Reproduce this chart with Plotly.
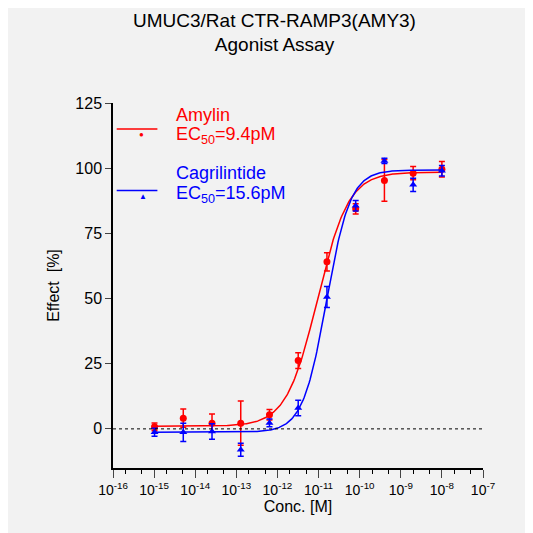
import numpy as np
import plotly.graph_objects as go

conc = [1.024e-15, 5.12e-15, 2.56e-14, 1.28e-13, 6.4e-13, 3.2e-12, 1.6e-11, 8e-11, 4e-10, 2e-9, 1e-8]
amylin = [0.8, 4.1, 2.2, 2.2, 5.4, 26.2, 64.1, 84.4, 95.3, 98.1, 99.6]
amylin_err = [1.5, 3.5, 3.5, 8.5, 2.0, 3.0, 3.5, 2.0, 8.0, 2.5, 3.0]
cagri = [-1.3, -1.3, -1.0, -8.0, 2.3, 8.0, 50.6, 85.6, 102.8, 93.6, 99.0]
cagri_err = [1.5, 3.5, 3.0, 2.5, 1.5, 3.0, 4.0, 2.0, 1.0, 2.5, 2.0]
ec50_amylin = 9.4e-12
ec50_cagri = 15.6e-12
tickvals = list(range(-16, -6))
ticktext = ["10<sup>%d</sup>" % v for v in tickvals]

def fit(x, bottom, top, ec50, hill):
    return bottom + (top - bottom) / (1 + (ec50 / x) ** hill)

xs = np.logspace(-15, -8, 300)
fig = go.Figure()
for y, e, ec, col, sym, b, t, h in [
    (amylin, amylin_err, ec50_amylin, "#ff0000", "circle", 1.0, 98.5, 1.15),
    (cagri, cagri_err, ec50_cagri, "#0000ff", "triangle-up", -1.3, 99.3, 1.5)]:
    fig.add_trace(go.Scatter(x=xs, y=fit(xs, b, t, ec, h), mode="lines",
                             line=dict(color=col, width=1.5), showlegend=False))
    fig.add_trace(go.Scatter(x=conc, y=y, mode="markers",
                             marker=dict(color=col, symbol=sym, size=7),
                             error_y=dict(type="data", array=e, color=col, thickness=1.5, width=3),
                             showlegend=False))

fig.add_shape(type="line", xref="paper", x0=0, x1=1, y0=0, y1=0,
              line=dict(color="black", width=1, dash="dot"))
# legend
for yl, ty1, ty2, col, glyph, t1, t2 in [
        (0.929, 0.967, 0.91, "#ff0000", "●", "Amylin", "EC<sub>50</sub>=9.4pM"),
        (0.76, 0.808, 0.748, "#0000ff", "▲", "Cagrilintide", "EC<sub>50</sub>=15.6pM")]:
    fig.add_shape(type="line", xref="paper", yref="paper", x0=0.01, x1=0.12, y0=yl, y1=yl,
                  line=dict(color=col, width=1.5))
    fig.add_annotation(xref="paper", yref="paper", x=0.065, y=yl, text=glyph, yshift=1,
                       showarrow=False, font=dict(color=col, size=8), valign="middle")
    fig.add_annotation(xref="paper", yref="paper", x=0.165, y=ty1, xanchor="left", yanchor="middle",
                       text=t1, showarrow=False, font=dict(color=col, size=18))
    fig.add_annotation(xref="paper", yref="paper", x=0.165, y=ty2, xanchor="left", yanchor="middle",
                       text=t2, showarrow=False, font=dict(color=col, size=18))

fig.update_layout(
    width=533, height=533, paper_bgcolor="#f2f2f2", plot_bgcolor="#f2f2f2",
    margin=dict(l=105, r=58, t=95, b=73),
    font=dict(family="Liberation Sans, Arial", color="black"),
    title=dict(text="UMUC3/Rat CTR-RAMP3(AMY3)<br>Agonist Assay", x=0.5, xanchor="center",
               y=0.965, yanchor="top", font=dict(size=19)),
    xaxis=dict(type="log", range=[-16, -7], tickvals=[10.0 ** v for v in tickvals], ticktext=ticktext,
               ticks="outside", ticklen=8, showline=True, linecolor="black", linewidth=1.5,
               showgrid=False, zeroline=False, tickfont=dict(size=14),
               minor=dict(ticks="outside", ticklen=4, tickcolor="black", showgrid=False),
               title=dict(text="Conc. [M]", font=dict(size=16), standoff=2)),
    yaxis=dict(range=[-15, 125], tickvals=[0, 25, 50, 75, 100, 125], ticks="outside", ticklen=6,
               showline=True, linecolor="black", linewidth=1.5, showgrid=False, zeroline=False,
               tickfont=dict(size=16), title=dict(text="Effect  [%]", font=dict(size=16), standoff=12)),
)
fig.write_html("out.html")
